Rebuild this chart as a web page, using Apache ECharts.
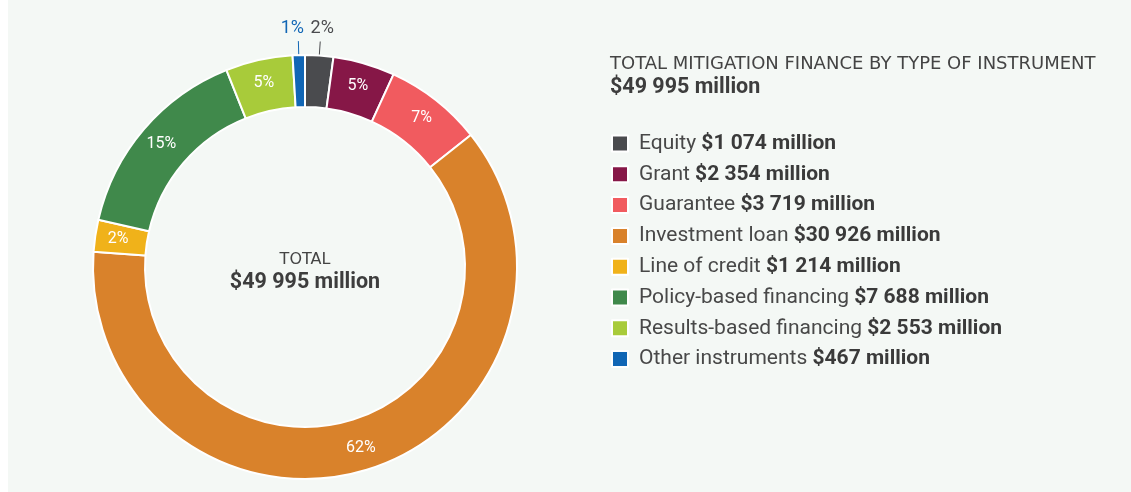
<!DOCTYPE html>
<html>
<head>
<meta charset="utf-8">
<script src="https://cdn.jsdelivr.net/npm/echarts@6/dist/echarts.min.js"></script>
<style>
	html, body { margin: 0; padding: 0; background: #ffffff; }
	#chart { width: 1131px; height: 492px; }
</style>
</head>
<body>
<div id="chart"></div>
<script>
	// values in US$ million
	var categories = ['Equity', 'Grant', 'Guarantee', 'Investment loan', 'Line of credit',
		'Policy-based financing', 'Results-based financing', 'Other instruments'];
	var values = [1074, 2354, 3719, 30926, 1214, 7688, 2553, 467];
	var colors = ['#4a4b4e', '#861747', '#f15b5f', '#d9822b', '#f0b21a', '#40894b', '#a8cb3a', '#1166b5'];
	var outsideLabels = ['Equity', 'Other instruments'];
	var totalText = '$49 995 million';

	function fmt(v) {
		return String(v).replace(/\B(?=(\d{3})+(?!\d))/g, ' ');
	}

	var data = [];
	categories.forEach(function (name, i) {
		var item = { name: name, value: values[i], itemStyle: { color: colors[i] } };
		if (outsideLabels.indexOf(name) >= 0) {
			item.label = { position: 'outside', color: colors[i], fontSize: 18 };
			item.labelLine = { show: true, length: 14, length2: 0, lineStyle: { color: colors[i], width: 1 } };
		}
		data.push(item);
	});

	var chart = echarts.init(document.getElementById('chart'));
	var option = {
		backgroundColor: '#ffffff',
		textStyle: { fontFamily: 'Roboto' },
		graphic: [{
			type: 'rect',
			z: -10,
			shape: { x: 8, y: 0, width: 1123, height: 492 },
			style: { fill: '#f4f8f5' }
		}],
		title: [{
			left: 610,
			top: 53.5,
			padding: 0,
			text: '{a|TOTAL MITIGATION FINANCE BY TYPE OF INSTRUMENT}\n{b|' + totalText + '}',
			textStyle: {
				fontWeight: 'normal',
				rich: {
					a: { fontFamily: 'DejaVu Sans', fontSize: 18, fontWeight: 'normal', color: '#444444', lineHeight: 22 },
					b: { fontFamily: 'Roboto', fontSize: 21.5, fontWeight: 'bold', color: '#3d3d3d', lineHeight: 24 }
				}
			}
		}, {
			left: 305,
			top: 248.5,
			padding: 0,
			textAlign: 'center',
			text: '{a|TOTAL}\n{b|' + totalText + '}',
			textStyle: {
				fontWeight: 'normal',
				rich: {
					a: { fontFamily: 'DejaVu Sans', fontSize: 16, fontWeight: 'normal', color: '#444444', lineHeight: 22, align: 'center' },
					b: { fontFamily: 'Roboto', fontSize: 21.5, fontWeight: 'bold', color: '#3d3d3d', lineHeight: 24, align: 'center' }
				}
			}
		}],
		legend: {
			orient: 'vertical',
			left: 611,
			top: 133,
			padding: 0,
			itemWidth: 16,
			itemHeight: 16,
			itemGap: 9.8,
			icon: 'rect',
			selectedMode: false,
			data: categories,
			formatter: function (name) {
				var i = categories.indexOf(name);
				return '{n|' + name + ' }{b|$' + fmt(values[i]) + ' million}';
			},
			textStyle: {
				padding: [0, 0, 0, 6],
				rich: {
					n: { fontSize: 21, color: '#484848', lineHeight: 22 },
					b: { fontSize: 21, fontWeight: 'bold', color: '#3a3a3a', lineHeight: 22 }
				}
			}
		},
		series: [{
			type: 'pie',
			center: [305, 267],
			radius: [160, 212],
			startAngle: 90,
			clockwise: true,
			avoidLabelOverlap: false,
			itemStyle: { borderColor: '#ffffff', borderWidth: 2 },
			label: {
				show: true,
				position: 'inside',
				color: '#ffffff',
				fontSize: 16,
				formatter: function (p) { return Math.round(p.percent) + '%'; }
			},
			labelLayout: function (params) {
				if (outsideLabels.indexOf(categories[params.dataIndex]) < 0) return {};
				var pts = params.labelLinePoints;
				var end = pts[pts.length - 1];
				// small slices near the top: nudge labels apart so they do not collide
				var shift = end[0] < 305 ? -6 : 2;
				return {
					x: end[0] + shift,
					y: end[1] - 4,
					align: 'center',
					verticalAlign: 'bottom',
					labelLinePoints: pts
				};
			},
			emphasis: { disabled: true },
			data: data
		}]
	};
	chart.setOption(option);
</script>
</body>
</html>
